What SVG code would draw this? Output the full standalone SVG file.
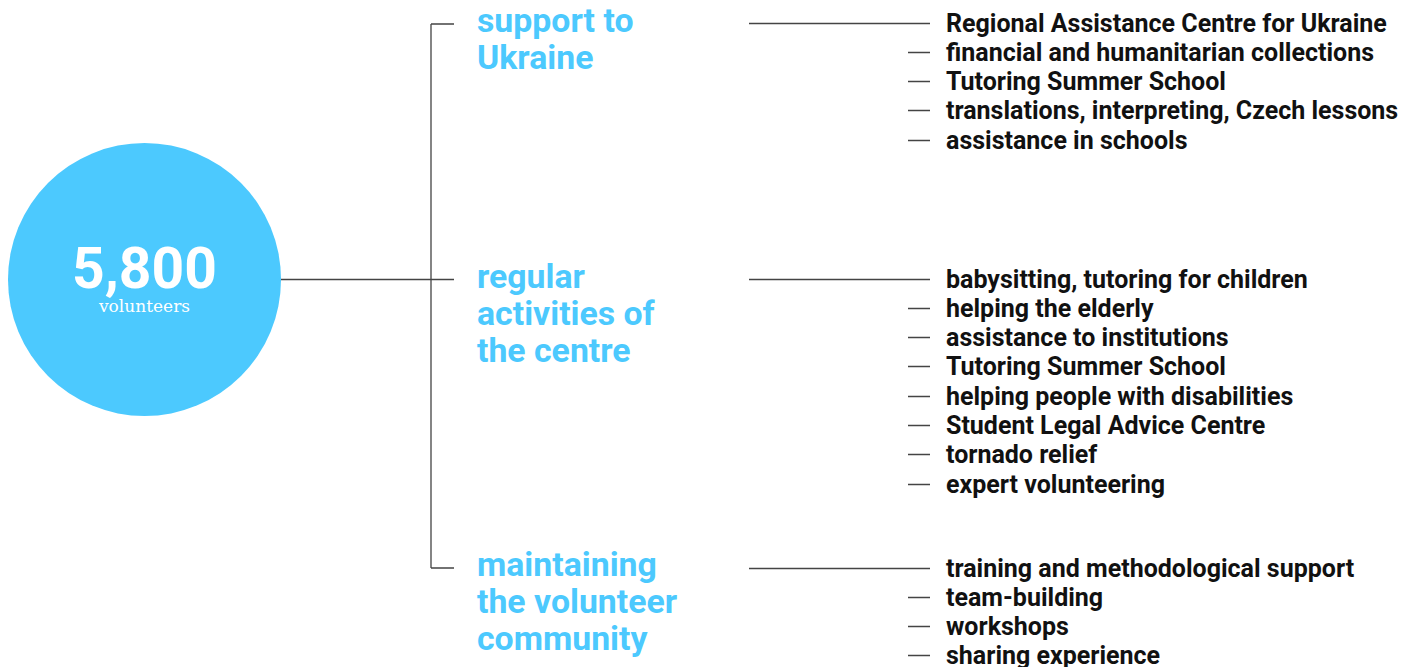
<svg xmlns="http://www.w3.org/2000/svg" width="1415" height="667" viewBox="0 0 1415 667">
<style>
.cat{font-family:Roboto,"Liberation Sans",sans-serif;font-weight:700;font-size:33.8px;fill:#4CC9FE}
.item{font-family:Roboto,"Liberation Sans",sans-serif;font-weight:700;font-size:25px;fill:#111}
.ln{stroke:#444;stroke-width:1.3;fill:none}
</style>
<rect width="1415" height="667" fill="#fff"/>
<g id="connectors">
<path class="ln" d="M281 279.5H454M431 24V568M431 24H454M431 568H454"/>
<path class="ln" d="M749 23.5H930M749 279.5H930M749 568.5H930"/>
<path class="ln" d="M908 52.5H930M908 81.5H930M908 110.5H930M908 140.5H930"/>
<path class="ln" d="M908 308.5H930M908 337.5H930M908 366.5H930M908 396.5H930M908 425.5H930M908 454.5H930M908 484.5H930"/>
<path class="ln" d="M908 597.5H930M908 626.5H930M908 655.5H930"/>
</g>
<g id="node-volunteers">
<circle cx="144.5" cy="279.5" r="136.5" fill="#4CC9FE"/>
<text x="144.5" y="288" text-anchor="middle" font-family="Roboto,'Liberation Sans',sans-serif" font-weight="700" font-size="57" fill="#fff">5,800</text>
<text x="144.5" y="312" text-anchor="middle" font-family="'DejaVu Serif',serif" font-size="17" fill="#fff">volunteers</text>
</g>
<g id="node-ukraine">
<text class="cat" x="477" y="32">support to</text>
<text class="cat" x="477" y="69">Ukraine</text>
</g>
<g id="node-regular">
<text class="cat" x="477" y="288">regular</text>
<text class="cat" x="477" y="325">activities of</text>
<text class="cat" x="477" y="362">the centre</text>
</g>
<g id="node-community">
<text class="cat" x="477" y="576">maintaining</text>
<text class="cat" x="477" y="613">the volunteer</text>
<text class="cat" x="477" y="650">community</text>
</g>
<g id="items-ukraine">
<text class="item" x="946" y="31.5">Regional Assistance Centre for Ukraine</text>
<text class="item" x="946" y="60.5">financial and humanitarian collections</text>
<text class="item" x="946" y="89.5">Tutoring Summer School</text>
<text class="item" x="946" y="118.5">translations, interpreting, Czech lessons</text>
<text class="item" x="946" y="148.5">assistance in schools</text>
</g>
<g id="items-regular">
<text class="item" x="946" y="287.5">babysitting, tutoring for children</text>
<text class="item" x="946" y="316.5">helping the elderly</text>
<text class="item" x="946" y="345.5">assistance to institutions</text>
<text class="item" x="946" y="374.5">Tutoring Summer School</text>
<text class="item" x="946" y="404.5">helping people with disabilities</text>
<text class="item" x="946" y="433.5">Student Legal Advice Centre</text>
<text class="item" x="946" y="462.5">tornado relief</text>
<text class="item" x="946" y="492.5">expert volunteering</text>
</g>
<g id="items-community">
<text class="item" x="946" y="576.5">training and methodological support</text>
<text class="item" x="946" y="605.5">team-building</text>
<text class="item" x="946" y="634.5">workshops</text>
<text class="item" x="946" y="663.5">sharing experience</text>
</g>
</svg>
